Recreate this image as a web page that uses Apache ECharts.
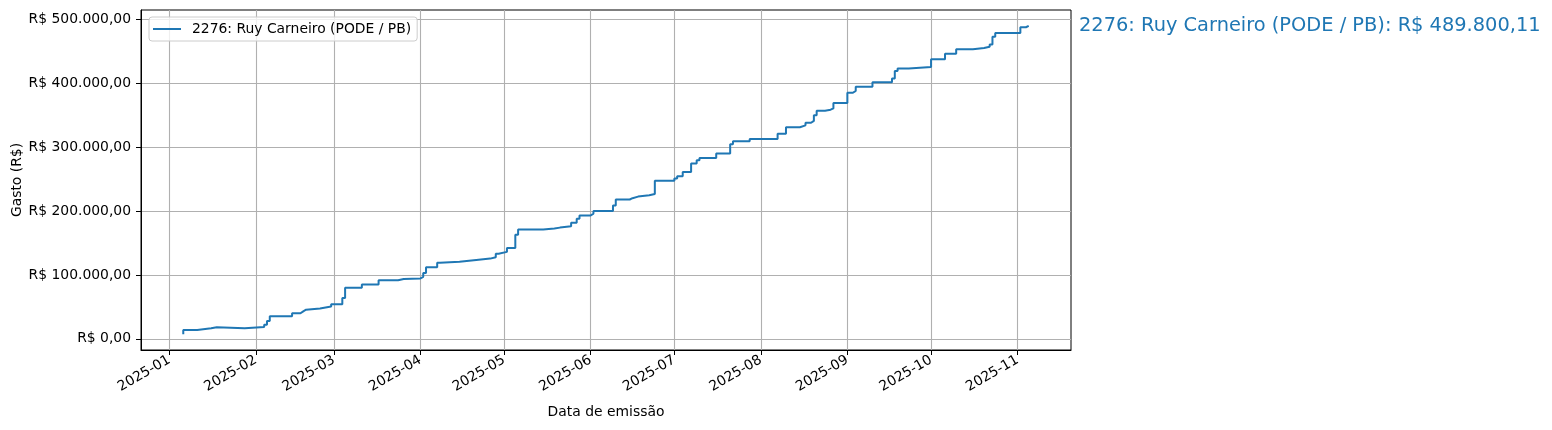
<!DOCTYPE html>
<html>
<head>
<meta charset="utf-8">
<script src="https://cdn.jsdelivr.net/npm/echarts@6/dist/echarts.min.js"></script>
<style>
html,body{margin:0;padding:0;background:#fff;}
#chart{width:1552px;height:430px;}
</style>
</head>
<body>
<div id="chart"></div>
<script>
// ---- data ----
const seriesName = '2276: Ruy Carneiro (PODE / PB)';
const annotationText = '2276: Ruy Carneiro (PODE / PB): R$ 489.800,11';
const dates = [
  '2025-01-06','2025-01-06','2025-01-11','2025-01-16','2025-01-18','2025-01-28',
  '2025-02-04','2025-02-05','2025-02-06','2025-02-14','2025-02-17','2025-02-18','2025-02-19','2025-02-24','2025-02-28',
  '2025-03-04','2025-03-05','2025-03-11','2025-03-17','2025-03-24','2025-03-26',
  '2025-04-01','2025-04-02','2025-04-03','2025-04-07','2025-04-08','2025-04-15','2025-04-21','2025-04-26','2025-04-28','2025-04-29',
  '2025-05-02','2025-05-05','2025-05-06','2025-05-15','2025-05-19','2025-05-21','2025-05-25','2025-05-27','2025-05-28',
  '2025-06-01','2025-06-02','2025-06-09','2025-06-10','2025-06-15','2025-06-16','2025-06-18','2025-06-22','2025-06-24',
  '2025-07-01','2025-07-02','2025-07-04','2025-07-07','2025-07-09','2025-07-10','2025-07-16','2025-07-21','2025-07-22','2025-07-28',
  '2025-08-07','2025-08-10','2025-08-15','2025-08-17','2025-08-19','2025-08-20','2025-08-21','2025-08-24','2025-08-26','2025-08-27',
  '2025-09-01','2025-09-03','2025-09-04','2025-09-10','2025-09-17','2025-09-18','2025-09-19','2025-09-23',
  '2025-10-01','2025-10-06','2025-10-10','2025-10-16','2025-10-20','2025-10-22','2025-10-23','2025-10-24',
  '2025-11-02','2025-11-04','2025-11-05'
];
const values = [
  7000,13800,16400,18000,16400,18500,
  22000,28000,35500,40000,43000,45500,47500,50500,54000,
  64000,80000,85000,91500,93500,94500,
  97000,103000,112000,119000,120500,123500,125500,127500,133000,136000,
  142000,163000,171000,172500,174000,176000,181500,188000,193000,
  196000,200000,208500,218000,220000,222500,224500,226500,247500,
  251000,254500,261000,274500,279500,283000,290000,304500,309000,312500,
  321000,331000,334000,338000,341000,350000,357000,358500,360500,369000,
  385000,388000,394500,401500,407500,419000,423000,425500,
  437500,446000,453000,455000,457000,460500,472500,478500,
  487500,489800.11,489800.11
];
const yTicks = [0,100000,200000,300000,400000,500000];
const xTickMonths = ['2025-01','2025-02','2025-03','2025-04','2025-05','2025-06','2025-07','2025-08','2025-09','2025-10','2025-11'];

// ---- helpers ----
function parseDay(s){const p=s.split('-').map(Number);return Date.UTC(p[0],p[1]-1,p[2]||1);}
function brl(v){
  const neg=v<0; v=Math.abs(v);
  const parts=v.toFixed(2).split('.');
  const int=parts[0].replace(/\B(?=(\d{3})+(?!\d))/g,'.');
  return (neg?'-':'')+'R$ '+int+','+parts[1];
}
function ym(t){const d=new Date(t);const m=d.getUTCMonth()+1;return d.getUTCFullYear()+'-'+(m<10?'0':'')+m;}

// steps-post expansion: hold each value until the next date
const lineData = [];
dates.forEach((d,i)=>{
  const t=parseDay(d);
  if(i>0) lineData.push([t,values[i-1]]);
  lineData.push([t,values[i]]);
});
const xTicks = xTickMonths.map(parseDay);
const first = parseDay(dates[0]), last = parseDay(dates[dates.length-1]);
const xMin = first - 0.05*(last-first);
const xMax = last + 0.05*(last-first);

const font = 'DejaVu Sans';
const chart = echarts.init(document.getElementById('chart'), null, {renderer:'canvas'});
chart.setOption({
  animation:false,
  backgroundColor:'#fff',
  textStyle:{fontFamily:font},
  grid:{left:141,right:481,top:10,bottom:80,show:true,borderColor:'#000',borderWidth:1,containLabel:false,outerBoundsMode:'none'},
  legend:{
    show:true,left:149,top:17,orient:'vertical',
    padding:[5,6,5,4],
    backgroundColor:'rgba(255,255,255,0.8)',
    borderColor:'#cccccc',borderWidth:1,borderRadius:3,
    itemWidth:28,itemHeight:14,
    icon:'path://M0,6 L28,6 L28,8 L0,8 Z',
    textStyle:{fontFamily:font,fontSize:13.9,color:'#000',padding:[0,0,0,6]},
    data:[seriesName]
  },
  xAxis:{
    type:'value',min:xMin,max:xMax,
    name:'Data de emissão',nameLocation:'middle',nameGap:55,nameMoveOverlap:false,
    nameTextStyle:{fontFamily:font,fontSize:13.9,color:'#000'},
    axisLine:{show:true,onZero:false,lineStyle:{color:'#000',width:1}},
    axisTick:{show:true,length:5,inside:false,lineStyle:{color:'#000',width:1},customValues:xTicks},
    axisLabel:{show:true,customValues:xTicks,rotate:30,margin:9,fontFamily:font,fontSize:13.9,color:'#000',
      formatter:function(v){return ym(v);},hideOverlap:false},
    splitLine:{show:true,lineStyle:{color:'#b0b0b0',width:1.1}}
  },
  yAxis:{
    type:'value',min:-17500,max:514500,
    name:'Gasto (R$)',nameLocation:'middle',nameGap:117,nameRotate:90,nameMoveOverlap:false,
    nameTextStyle:{fontFamily:font,fontSize:13.9,color:'#000'},
    axisLine:{show:true,onZero:false,lineStyle:{color:'#000',width:1}},
    axisTick:{show:true,length:5,inside:false,lineStyle:{color:'#000',width:1},customValues:yTicks},
    axisLabel:{show:true,customValues:yTicks,margin:10,fontFamily:font,fontSize:13.9,color:'#000',
      formatter:function(v){return brl(v);}},
    splitLine:{show:true,lineStyle:{color:'#b0b0b0',width:1.1}}
  },
  series:[{
    name:seriesName,type:'line',
    data:lineData,
    showSymbol:false,symbol:'none',
    lineStyle:{color:'#1f77b4',width:2},
    itemStyle:{color:'#1f77b4'}
  }],
  graphic:[{
    type:'text',left:1079,top:16,
    style:{text:annotationText,fill:'#1f77b4',font:'19.4px "DejaVu Sans"'}
  }]
});
</script>
</body>
</html>
